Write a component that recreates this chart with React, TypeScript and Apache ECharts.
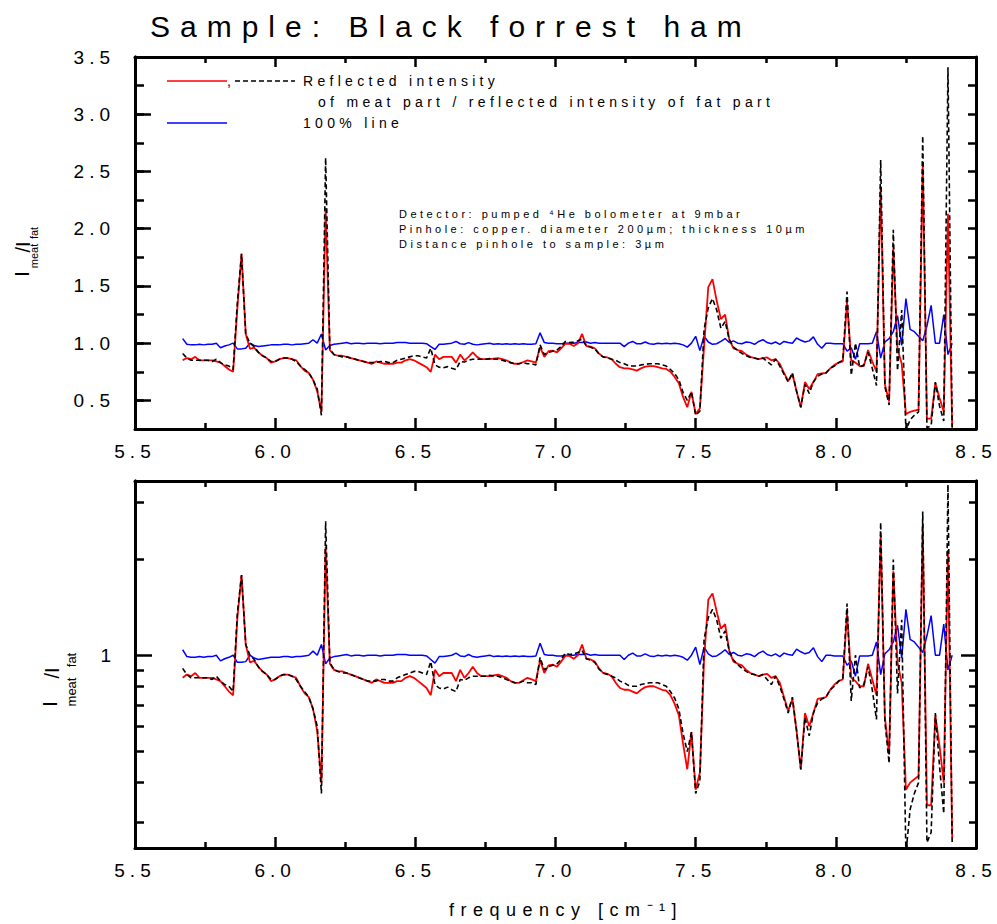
import React, { useEffect, useRef } from "react";
import * as echarts from "echarts";

const TITLE = "Sample: Black forrest ham";
const LEGEND_LINE1 = "Reflected intensity";
const LEGEND_LINE2 = "of meat part / reflected intensity of fat part";
const LEGEND_BLUE = "100% line";
const NOTES = [
  "Detector: pumped \u2074He bolometer at 9mbar",
  "Pinhole: copper. diameter 200\u00b5m; thickness 10\u00b5m",
  "Distance pinhole to sample: 3\u00b5m",
];
const X_NAME = "frequency [cm\u207b\u00b9]";

// frequency (cm^-1)
const freq = [
  5.670, 5.685, 5.700, 5.715, 5.730, 5.745, 5.760, 5.775, 5.790, 5.805,
  5.820, 5.835, 5.850, 5.865, 5.880, 5.895, 5.910, 5.925, 5.940, 5.955,
  5.970, 5.985, 6.000, 6.015, 6.030, 6.045, 6.060, 6.075, 6.090, 6.105,
  6.120, 6.135, 6.150, 6.165, 6.180, 6.195, 6.210, 6.225, 6.240, 6.255,
  6.270, 6.285, 6.300, 6.315, 6.330, 6.345, 6.360, 6.375, 6.390, 6.405,
  6.420, 6.435, 6.450, 6.465, 6.480, 6.495, 6.510, 6.525, 6.540, 6.555,
  6.570, 6.585,
  6.600, 6.615, 6.630, 6.645, 6.660, 6.675, 6.690, 6.705, 6.720, 6.735,
  6.750, 6.765, 6.780, 6.795, 6.810, 6.825, 6.840, 6.855, 6.870, 6.885,
  6.900, 6.915, 6.930, 6.945, 6.960, 6.975, 6.990, 7.005, 7.020, 7.035,
  7.050, 7.065, 7.080, 7.095, 7.110, 7.125, 7.140, 7.155, 7.170, 7.185,
  7.200, 7.215, 7.230, 7.245, 7.260, 7.275, 7.290, 7.305, 7.320, 7.335,
  7.350, 7.365, 7.380, 7.395, 7.410, 7.425, 7.440, 7.455, 7.470, 7.485,
  7.500, 7.515, 7.530, 7.545, 7.560, 7.575, 7.590, 7.605, 7.620, 7.635,
  7.650, 7.665, 7.680, 7.695, 7.710, 7.725, 7.740, 7.755, 7.770,
  7.785, 7.800, 7.815, 7.830, 7.845, 7.860, 7.875, 7.890, 7.905, 7.920,
  7.935, 7.950, 7.965, 7.980, 7.995, 8.010, 8.025, 8.040, 8.055, 8.070,
  8.085, 8.100, 8.115, 8.130, 8.145, 8.160, 8.175, 8.190, 8.205, 8.220,
  8.235, 8.250, 8.265, 8.280, 8.295, 8.310, 8.325, 8.340, 8.355, 8.370,
  8.385, 8.400, 8.415,
];

// red solid curve
const meatRed = [
  0.85, 0.87, 0.86, 0.88, 0.85, 0.85, 0.85, 0.85, 0.84, 0.83,
  0.80, 0.77, 0.75, 1.30, 1.78, 1.08, 0.95, 0.96, 0.92, 0.89,
  0.87, 0.83, 0.84, 0.86, 0.87, 0.87, 0.86, 0.85, 0.80, 0.76,
  0.74, 0.68, 0.58, 0.40, 2.18, 0.94, 0.90, 0.89, 0.89, 0.88,
  0.87, 0.86, 0.85, 0.84, 0.83, 0.82, 0.84, 0.83, 0.82, 0.82,
  0.82, 0.83, 0.83, 0.85, 0.86, 0.85, 0.83, 0.81, 0.79, 0.75,
  0.90, 0.86,
  0.88, 0.88, 0.88, 0.83, 0.90, 0.85, 0.88, 0.92, 0.88, 0.86,
  0.86, 0.86, 0.865, 0.87, 0.86, 0.85, 0.83, 0.82, 0.82, 0.835,
  0.85, 0.84, 0.83, 0.965, 0.88, 0.93, 0.935, 0.92, 0.955, 0.995,
  0.995, 0.975, 1.0, 1.08, 0.975, 0.97, 0.955, 0.91, 0.88, 0.875,
  0.86, 0.82, 0.79, 0.78, 0.78, 0.77, 0.76, 0.78, 0.795, 0.80,
  0.80, 0.79, 0.78, 0.775, 0.75, 0.705, 0.65, 0.53, 0.44, 0.575,
  0.38, 0.43, 0.97, 1.49, 1.56, 1.37, 1.21, 1.25, 1.03, 0.955,
  0.94, 0.93, 0.90, 0.88, 0.87, 0.86, 0.87, 0.875, 0.85,
  0.86, 0.82, 0.74, 0.67, 0.73, 0.58, 0.44, 0.66, 0.60, 0.66,
  0.73, 0.735, 0.74, 0.78, 0.81, 0.83, 0.84, 1.36, 0.85, 0.83,
  0.80, 0.80, 0.94, 0.84, 0.75, 2.37, 0.64, 0.49, 1.83, 0.95,
  0.82, 0.38, 0.40, 0.41, 0.42, 2.58, 0.34, 0.34, 0.65, 0.52,
  0.40, 2.13, 0.27,
];

// black dashed curve
const meatBlack = [
  0.91, 0.87, 0.85, 0.85, 0.85, 0.85, 0.85, 0.84, 0.86, 0.83,
  0.81, 0.80, 0.77, 1.35, 1.78, 1.08, 1.00, 0.97, 0.92, 0.89,
  0.87, 0.84, 0.84, 0.86, 0.87, 0.87, 0.86, 0.84, 0.80, 0.77,
  0.74, 0.68, 0.60, 0.37, 2.62, 0.95, 0.90, 0.89, 0.88, 0.88,
  0.87, 0.86, 0.85, 0.84, 0.83, 0.83, 0.83, 0.84, 0.84, 0.83,
  0.83, 0.85, 0.86, 0.87, 0.88, 0.89, 0.89, 0.88, 0.87, 0.955,
  0.81, 0.79,
  0.785, 0.795, 0.78, 0.77, 0.84, 0.835, 0.85, 0.86, 0.86, 0.86,
  0.86, 0.865, 0.86, 0.86, 0.85, 0.84, 0.83, 0.82, 0.82, 0.83,
  0.82, 0.82, 0.81, 0.985, 0.90, 0.92, 0.93, 0.94, 0.97, 1.015,
  1.005, 1.01, 1.02, 1.035, 0.975, 0.965, 0.95, 0.905, 0.88, 0.87,
  0.86, 0.85, 0.83, 0.82, 0.805, 0.80, 0.80, 0.81, 0.815, 0.82,
  0.82, 0.82, 0.81, 0.80, 0.77, 0.735, 0.68, 0.57, 0.50, 0.575,
  0.37, 0.405, 1.12, 1.31, 1.39, 1.29, 1.13, 1.19, 1.03, 0.965,
  0.935, 0.91, 0.89, 0.875, 0.87, 0.86, 0.87, 0.84, 0.81,
  0.86, 0.80, 0.73, 0.66, 0.74, 0.58, 0.44, 0.64, 0.56, 0.66,
  0.71, 0.73, 0.74, 0.78, 0.80, 0.83, 0.85, 1.45, 0.72, 1.00,
  0.79, 0.81, 0.92, 0.78, 0.63, 2.60, 0.62, 0.46, 1.99, 0.76,
  1.29, 0.24, 0.33, 0.37, 0.40, 2.81, 0.26, 0.28, 0.66, 0.45,
  0.32, 3.41, 0.26,
];

// blue 100% line
const line100 = [
  1.04, 0.99, 0.985, 0.985, 0.99, 0.985, 0.99, 0.99, 1.0, 0.96,
  0.975, 0.985, 1.0, 0.95, 0.95, 0.955, 1.0, 0.98, 0.97, 0.975,
  0.98, 0.985, 0.985, 0.985, 0.99, 0.99, 0.985, 0.99, 0.99, 0.995,
  1.0, 1.03, 1.0, 1.08, 0.94, 0.98, 0.99, 0.995, 1.0, 1.005,
  0.995, 1.0, 1.0, 0.995, 1.0, 1.0, 1.0, 0.995, 1.0, 1.0,
  1.0, 1.005, 1.005, 1.005, 1.0, 1.0, 1.0, 1.0, 0.995, 0.97,
  0.945, 0.99,
  0.99, 0.995, 1.0, 1.015, 0.995, 0.99, 1.005, 0.99, 0.985, 0.99,
  0.995, 1.0, 0.99, 0.995, 0.99, 0.995, 0.99, 0.995, 0.99, 0.995,
  0.99, 0.99, 0.995, 1.09, 1.005, 1.0, 1.0, 0.995, 0.995, 1.0,
  1.0, 1.0, 1.005, 1.005, 1.01, 1.0, 1.005, 1.0, 1.0, 1.0,
  1.0, 1.0, 1.0, 0.97, 1.0, 1.015, 0.995, 0.995, 1.01, 0.995,
  0.99, 1.0, 0.995, 1.0, 0.995, 1.0, 0.995, 0.985, 0.965, 1.0,
  1.06, 0.935, 1.06, 1.01, 0.99, 0.995, 1.015, 1.04, 1.005, 1.02,
  1.0, 0.995, 1.01, 1.005, 0.99, 1.015, 1.03, 1.005, 0.995,
  1.01, 0.99, 1.015, 1.005, 1.0, 1.045, 1.025, 1.01, 1.02, 1.055,
  0.99, 0.955, 1.0, 1.0, 0.995, 0.995, 0.995, 0.93, 0.96, 0.86,
  0.995, 0.995, 0.995, 1.0, 1.1, 0.87, 1.01, 1.04, 1.1, 1.24,
  0.98, 1.39, 1.12, 1.1, 1.06, 1.02, 1.15, 1.33, 1.0, 1.0,
  1.25, 0.90, 1.0,
];

// axis ranges and ticks
const X_MIN = 5.5;
const X_MAX = 8.5;
const X_STEP = 0.5;
const Y_MIN = 0.25;
const Y_MAX = 3.5;
const Y_MINOR_STEP = 0.25;
const yMajorTicks = [0.5, 1.0, 1.5, 2.0, 2.5, 3.0, 3.5];
const logMinorTicks = [0.3, 0.4, 0.5, 0.6, 0.7, 0.8, 0.9, 2, 3];
const logMajorTicks = [1];

const FONT = '"Liberation Sans", Arial, Helvetica, sans-serif';
const BLACK = "#000";

function pairs(vals: number[]) {
  return freq.map((f, i) => [f, vals[i]]);
}

function xAxisDef(gridIndex: number, position: string, showLabel: boolean, tickLen: number) {
  return {
    type: "value",
    gridIndex,
    position,
    min: X_MIN,
    max: X_MAX,
    interval: X_STEP,
    axisLine: { show: true, onZero: false, lineStyle: { color: BLACK, width: 3 } },
    axisTick: { show: true, inside: true, length: tickLen, lineStyle: { color: BLACK, width: 2.5 } },
    minorTick: { show: true, splitNumber: 2, length: 6, lineStyle: { color: BLACK, width: 2.5 } },
    axisLabel: {
      show: showLabel,
      margin: 13,
      color: BLACK,
      fontSize: 19,
      fontFamily: FONT,
      showMinLabel: true,
      showMaxLabel: true,
      formatter: (v: number) => v.toFixed(1),
    },
    splitLine: { show: false },
    minorSplitLine: { show: false },
  };
}

function tickAxis(
  gridIndex: number,
  position: string,
  min: number,
  max: number,
  tickValues: number[] | null,
  tickLen: number,
  label: any
) {
  const a: any = {
    type: "value",
    gridIndex,
    position,
    min,
    max,
    axisLine: { show: true, onZero: false, lineStyle: { color: BLACK, width: 3 } },
    axisTick: { show: true, inside: true, length: tickLen, lineStyle: { color: BLACK, width: 2.5 } },
    axisLabel: label || { show: false },
    splitLine: { show: false },
  };
  if (tickValues) a.axisTick.customValues = tickValues;
  else a.interval = Y_MINOR_STEP;
  return a;
}

const LOG_MIN = Math.log10(Y_MIN);
const LOG_MAX = Math.log10(Y_MAX);

function buildOption() {
  const labelStyle = { color: BLACK, fontSize: 19, fontFamily: FONT };
  const xAxis = [
    xAxisDef(0, "bottom", true, 11),
    xAxisDef(0, "top", false, 10),
    xAxisDef(1, "bottom", true, 11),
    xAxisDef(1, "top", false, 10),
  ];
  const yAxis: any[] = [
    // top grid
    tickAxis(0, "left", Y_MIN, Y_MAX, null, 9, null),
    tickAxis(0, "left", Y_MIN, Y_MAX, yMajorTicks, 16, {
      show: true,
      ...labelStyle,
      margin: 20,
      customValues: yMajorTicks,
      formatter: (v: number) => v.toFixed(1),
    }),
    tickAxis(0, "right", Y_MIN, Y_MAX, null, 8, null),
    // bottom grid: log axis carrying the series
    {
      type: "log",
      logBase: 10,
      gridIndex: 1,
      position: "left",
      min: Y_MIN,
      max: Y_MAX,
      show: false,
      axisLine: { onZero: false },
      splitLine: { show: false },
    },
    tickAxis(1, "left", LOG_MIN, LOG_MAX, logMinorTicks.map(Math.log10), 9, null),
    tickAxis(1, "left", LOG_MIN, LOG_MAX, logMajorTicks.map(Math.log10), 17, {
      show: true,
      ...labelStyle,
      margin: 24,
      customValues: logMajorTicks.map(Math.log10),
      formatter: (v: number) => String(Math.round(Math.pow(10, v))),
    }),
    tickAxis(1, "right", LOG_MIN, LOG_MAX, logMinorTicks.map(Math.log10), 7, null),
    tickAxis(1, "right", LOG_MIN, LOG_MAX, logMajorTicks.map(Math.log10), 15, null),
  ];

  const mk = (name: string, vals: number[], xi: number, yi: number, color: string, width: number, dashed: boolean, z: number) => ({
    type: "line",
    name,
    xAxisIndex: xi,
    yAxisIndex: yi,
    data: pairs(vals),
    showSymbol: false,
    symbol: "none",
    silent: true,
    clip: true,
    z,
    lineStyle: { color, width, type: dashed ? [5, 3] : "solid" },
  });

  const series = [
    mk("100% line", line100, 0, 0, "#0000ff", 1.5, false, 2),
    mk("meat/fat red", meatRed, 0, 0, "#ff0000", 1.8, false, 3),
    mk("meat/fat dashed", meatBlack, 0, 0, "#000000", 1.6, true, 4),
    mk("100% line", line100, 2, 3, "#0000ff", 1.5, false, 2),
    mk("meat/fat red", meatRed, 2, 3, "#ff0000", 1.8, false, 3),
    mk("meat/fat dashed", meatBlack, 2, 3, "#000000", 1.6, true, 4),
  ];

  const txt = (text: string, x: number, y: number, size: number, align = "left", rotation = 0) => ({
    type: "text",
    x,
    y,
    rotation,
    silent: true,
    style: {
      text,
      fill: BLACK,
      font: `${size}px ${FONT}`,
      align,
      verticalAlign: "middle",
      textAlign: align,
      textVerticalAlign: "middle",
    },
  });
  const seg = (x1: number, x2: number, y: number, color: string, dash?: number[]) => ({
    type: "line",
    silent: true,
    shape: { x1, y1: y, x2, y2: y },
    style: { stroke: color, lineWidth: 1.5, lineDash: dash || null },
  });

  const R = Math.PI / 2;
  const graphic = [
    txt(TITLE, 150, 26, 30),
    seg(167, 227, 81, "#ff0000"),
    txt(",", 227, 81, 14),
    seg(235, 295, 81, BLACK, [5, 3]),
    txt(LEGEND_LINE1, 303, 81, 14),
    txt(LEGEND_LINE2, 318, 102, 14),
    seg(167, 227, 123, "#0000ff"),
    txt(LEGEND_BLUE, 303, 123, 14),
    txt(NOTES[0], 399, 214, 11),
    txt(NOTES[1], 399, 229, 11),
    txt(NOTES[2], 399, 244, 11),
    // y axis title, top chart
    txt("I", 22, 274, 20, "center", R),
    txt("meat", 34, 256, 11, "center", R),
    txt("/I", 23, 247, 20, "center", R),
    txt("fat", 34, 233, 11, "center", R),
    // y axis title, bottom chart
    txt("I", 50, 704, 20, "center", R),
    txt("meat", 71, 692, 13, "center", R),
    txt("/I", 52, 673, 20, "center", R),
    txt("fat", 71, 660, 13, "center", R),
    // x axis title
    txt(X_NAME, 566, 910, 18, "center"),
  ];

  return {
    animation: false,
    backgroundColor: "#ffffff",
    grid: [
      { left: 135, top: 57, width: 841, height: 372, outerBoundsMode: "none", containLabel: false },
      { left: 135, top: 481, width: 841, height: 367, outerBoundsMode: "none", containLabel: false },
    ],
    xAxis,
    yAxis,
    series,
    graphic,
  };
}

function applySpacing(root: HTMLElement) {
  const texts = root.querySelectorAll("text");
  texts.forEach((t) => {
    const s = t.textContent || "";
    let ls = 0;
    if (s === TITLE) ls = 10;
    else if (/^\d\.\d$/.test(s)) ls = 5;
    else if (s === LEGEND_LINE1 || s === LEGEND_LINE2 || s === LEGEND_BLUE) ls = 4.3;
    else if (NOTES.indexOf(s) >= 0) ls = 3.5;
    else if (s === X_NAME) ls = 6.5;
    if (ls) t.setAttribute("letter-spacing", String(ls));
  });
}

export default function App() {
  const ref = useRef<HTMLDivElement>(null);
  useEffect(() => {
    const el = ref.current as HTMLDivElement;
    const chart = echarts.init(el, null, { renderer: "svg", width: 997, height: 924 });
    chart.setOption(buildOption() as any);
    applySpacing(el);
    const id = requestAnimationFrame(() => applySpacing(el));
    return () => {
      cancelAnimationFrame(id);
      chart.dispose();
    };
  }, []);
  return (
    <div
      ref={ref}
      style={{ position: "absolute", left: 0, top: 0, width: 997, height: 924, background: "#fff" }}
    />
  );
}
